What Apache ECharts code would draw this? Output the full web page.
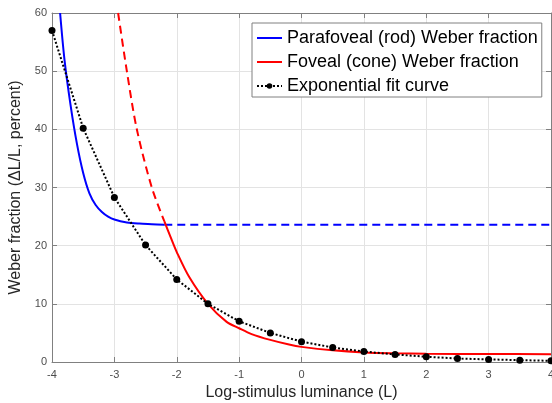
<!DOCTYPE html>
<html>
<head>
<meta charset="utf-8">
<script src="https://cdn.jsdelivr.net/npm/echarts@6/dist/echarts.min.js"></script>
<style>
  html, body { margin: 0; padding: 0; background: #fff; }
  #chart { width: 552px; height: 403px; }
</style>
</head>
<body>
<div id="chart"></div>
<script>
// log-stimulus luminance ticks
var xTicks = [-4, -3, -2, -1, 0, 1, 2, 3, 4];
var yTicks = [0, 10, 20, 30, 40, 50, 60];

// parafoveal (rod) curve, solid part then flat dashed part
var rodX = [-3.87, -3.8, -3.7, -3.6, -3.5, -3.4, -3.3, -3.2, -3.1, -3.0, -2.8, -2.6, -2.4, -2.2];
var rodY = [60, 52, 44, 37.5, 32.5, 29, 27, 25.8, 25, 24.5, 24, 23.8, 23.7, 23.6];
var rodDashX = [-2.2, 4];
var rodDashY = [23.6, 23.6];

// foveal (cone) curve, dashed part then solid part
var coneDashX = [-2.94, -2.80, -2.64, -2.40, -2.2];
var coneDashY = [60, 50, 40, 30, 24.2];
var coneX = [-2.2, -2.1, -2.0, -1.8, -1.5, -1.2, -1.0, -0.8, -0.5, -0.2, 0, 0.5, 1.0, 1.5, 2.0, 3.0, 4.0];
var coneY = [24.2, 21.5, 18.9, 14.6, 10.0, 6.9, 5.8, 4.8, 3.8, 3.0, 2.6, 2.0, 1.65, 1.5, 1.42, 1.38, 1.35];

// exponential fit points
var fitX = [-4, -3.5, -3, -2.5, -2, -1.5, -1, -0.5, 0, 0.5, 1, 1.5, 2, 2.5, 3, 3.5, 4];
var fitY = [57.0, 40.2, 28.3, 20.1, 14.2, 10.0, 7.0, 5.0, 3.5, 2.5, 1.8, 1.3, 0.9, 0.6, 0.45, 0.32, 0.2];

function pairs(xs, ys) {
    var out = [];
    for (var i = 0; i < xs.length; i++) {
        out.push([xs[i], ys[i]]);
    }
    return out;
}

var font = 'Liberation Sans, Arial, Helvetica, sans-serif';
var axisGray = '#808080';
// flat bar used as legend marker so it reads as a plain line
var flatIcon = 'path://M0,0h25v2h-25z';

var option = {
    animation: false,
    textStyle: { fontFamily: font },
    grid: { left: 52, right: 1, top: 13, bottom: 41, outerBoundsMode: 'none', containLabel: false },
    legend: {
        orient: 'vertical',
        left: 252,
        top: 23,
        padding: [5, 4, 1, 4],
        itemGap: 4,
        itemWidth: 25,
        itemHeight: 7,
        backgroundColor: '#fff',
        borderColor: axisGray,
        borderWidth: 1,
        borderRadius: 0,
        textStyle: { fontSize: 18, color: '#000', lineHeight: 20, fontFamily: font },
        data: [
            { name: 'Parafoveal (rod) Weber fraction', icon: flatIcon },
            { name: 'Foveal (cone) Weber fraction', icon: flatIcon },
            { name: 'Exponential fit curve' }
        ]
    },
    xAxis: [
        {
            type: 'value', min: -4, max: 4, interval: 1,
            name: 'Log-stimulus luminance (L)',
            nameLocation: 'middle', nameGap: 22,
            nameTextStyle: { fontSize: 16, color: '#262626', fontFamily: font },
            axisLine: { onZero: false, lineStyle: { color: axisGray, width: 1 } },
            axisTick: { inside: true, length: 5, lineStyle: { color: axisGray } },
            axisLabel: { fontSize: 11, color: '#4d4d4d', margin: 7, fontFamily: font },
            splitLine: { show: true, lineStyle: { color: '#e3e3e3' } }
        },
        {
            type: 'value', min: -4, max: 4, interval: 1, position: 'top',
            axisLine: { onZero: false, lineStyle: { color: axisGray, width: 1 } },
            axisTick: { inside: true, length: 5, lineStyle: { color: axisGray } },
            axisLabel: { show: false },
            splitLine: { show: false }
        }
    ],
    yAxis: [
        {
            type: 'value', min: 0, max: 60, interval: 10,
            name: 'Weber fraction (\u0394L/L, percent)',
            nameLocation: 'middle', nameGap: 27,
            nameTextStyle: { fontSize: 16, color: '#262626', fontFamily: font },
            axisLine: { show: true, onZero: false, lineStyle: { color: axisGray, width: 1 } },
            axisTick: { show: true, inside: true, length: 5, lineStyle: { color: axisGray } },
            axisLabel: { fontSize: 11, color: '#4d4d4d', margin: 5, fontFamily: font },
            splitLine: { show: true, lineStyle: { color: '#e3e3e3' } }
        },
        {
            type: 'value', min: 0, max: 60, interval: 10, position: 'right',
            axisLine: { show: true, onZero: false, lineStyle: { color: axisGray, width: 1 } },
            axisTick: { show: true, inside: true, length: 5, lineStyle: { color: axisGray } },
            axisLabel: { show: false },
            splitLine: { show: false }
        }
    ],
    series: [
        {
            name: 'Parafoveal (rod) Weber fraction',
            type: 'line', data: pairs(rodX, rodY),
            smooth: 0.3, symbol: 'none',
            itemStyle: { color: '#0000ff' },
            lineStyle: { color: '#0000ff', width: 2 }
        },
        {
            name: 'rod-extension',
            type: 'line', data: pairs(rodDashX, rodDashY),
            symbol: 'none',
            itemStyle: { color: '#0000ff' },
            lineStyle: { color: '#0000ff', width: 2, type: [8, 5] }
        },
        {
            name: 'cone-extension',
            type: 'line', data: pairs(coneDashX, coneDashY),
            smooth: 0.3, symbol: 'none',
            itemStyle: { color: '#ff0000' },
            lineStyle: { color: '#ff0000', width: 2, type: [8, 5] }
        },
        {
            name: 'Foveal (cone) Weber fraction',
            type: 'line', data: pairs(coneX, coneY),
            smooth: 0.3, symbol: 'none',
            itemStyle: { color: '#ff0000' },
            lineStyle: { color: '#ff0000', width: 2 }
        },
        {
            name: 'Exponential fit curve',
            type: 'line', data: pairs(fitX, fitY),
            symbol: 'circle', symbolSize: 7, showSymbol: true,
            itemStyle: { color: '#000' },
            lineStyle: { color: '#000', width: 2, type: [2, 2] },
            z: 5
        }
    ]
};

var chart = echarts.init(document.getElementById('chart'));
chart.setOption(option);
</script>
</body>
</html>
